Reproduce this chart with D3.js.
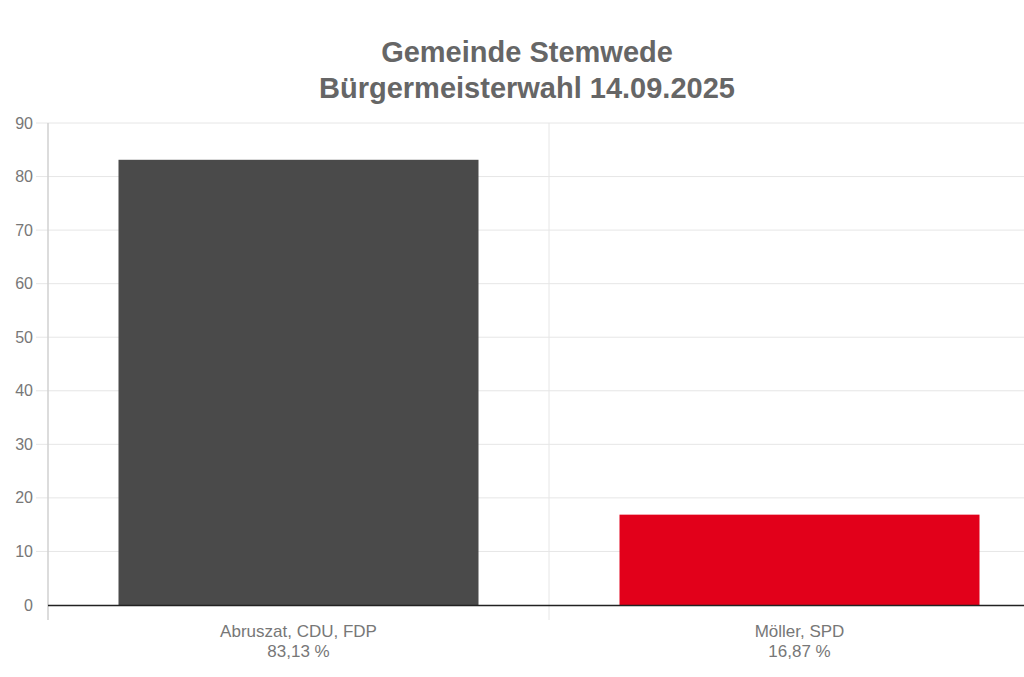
<!DOCTYPE html>
<html><head><meta charset="utf-8">
<script src="https://cdn.jsdelivr.net/npm/d3@7"></script>
<style>body{margin:0;background:#fff;overflow:hidden}svg{display:block;font-family:"Liberation Sans",Arial,sans-serif}</style>
</head><body><svg id="c" width="1024" height="677"></svg>
<script>
const categories = ["Abruszat, CDU, FDP", "Möller, SPD"];
const percentLabels = ["83,13 %", "16,87 %"];
const values = [83.13, 16.87];
const colors = ["#4a4a4a", "#e2001a"];
const yTicks = [0, 10, 20, 30, 40, 50, 60, 70, 80, 90];
const titleLines = ["Gemeinde Stemwede", "Bürgermeisterwahl 14.09.2025"];

const svg = d3.select("#c");
const m = {left: 48, top: 123, right: -26, bottom: 72};
const W = 1024, H = 677;
const x = d3.scaleBand().domain(categories).range([m.left, W - m.right]).paddingInner(0).paddingOuter(0);
const y = d3.scaleLinear().domain([0, 90]).range([H - m.bottom, m.top]);

// grid
svg.append("g").selectAll("line").data(yTicks.slice(1)).join("line")
  .attr("x1", m.left - 12).attr("x2", W).attr("y1", d => y(d)).attr("y2", d => y(d))
  .attr("stroke", "#e6e6e6").attr("stroke-width", 1);
// vertical category separators
const seps = categories.map(c => x(c)).concat([x(categories[1]) + x.bandwidth()]);
svg.append("g").selectAll("line").data(seps).join("line")
  .attr("x1", d => d).attr("x2", d => d).attr("y1", m.top).attr("y2", y(0) + 15)
  .attr("stroke", (d, i) => i === 0 ? "#d0d0d0" : "#e6e6e6").attr("stroke-width", (d, i) => i === 0 ? 1.5 : 1);

// y tick labels
svg.append("g").selectAll("text").data(yTicks).join("text")
  .attr("x", 33).attr("y", d => y(d)).attr("dy", "0.35em").attr("text-anchor", "end")
  .attr("fill", "#777").style("font-size", "16px").text(d => d);

// bars
const barW = 360;
svg.append("g").selectAll("rect").data(values).join("rect")
  .attr("x", (d, i) => x(categories[i]) + (x.bandwidth() - barW) / 2)
  .attr("width", barW)
  .attr("y", d => y(d)).attr("height", d => y(0) - y(d))
  .attr("fill", (d, i) => colors[i]);

// baseline
svg.append("line").attr("x1", m.left).attr("x2", W).attr("y1", y(0) + 0.5).attr("y2", y(0) + 0.5)
  .attr("stroke", "#222").attr("stroke-width", 1.5);

// category labels
const lab = svg.append("g").selectAll("text").data(categories).join("text")
  .attr("text-anchor", "middle").attr("fill", "#777").style("font-size", "17px")
  .attr("x", d => x(d) + x.bandwidth() / 2);
lab.append("tspan").attr("x", d => x(d) + x.bandwidth() / 2).attr("y", 637).text(d => d);
lab.append("tspan").attr("x", d => x(d) + x.bandwidth() / 2).attr("y", 657).text((d, i) => percentLabels[i]);

// title
svg.append("g").selectAll("text").data(titleLines).join("text")
  .attr("x", 527).attr("y", (d, i) => 62 + i * 36).attr("text-anchor", "middle")
  .attr("fill", "#666").style("font-size", "29px").style("font-weight", "bold").text(d => d);
</script></body></html>
